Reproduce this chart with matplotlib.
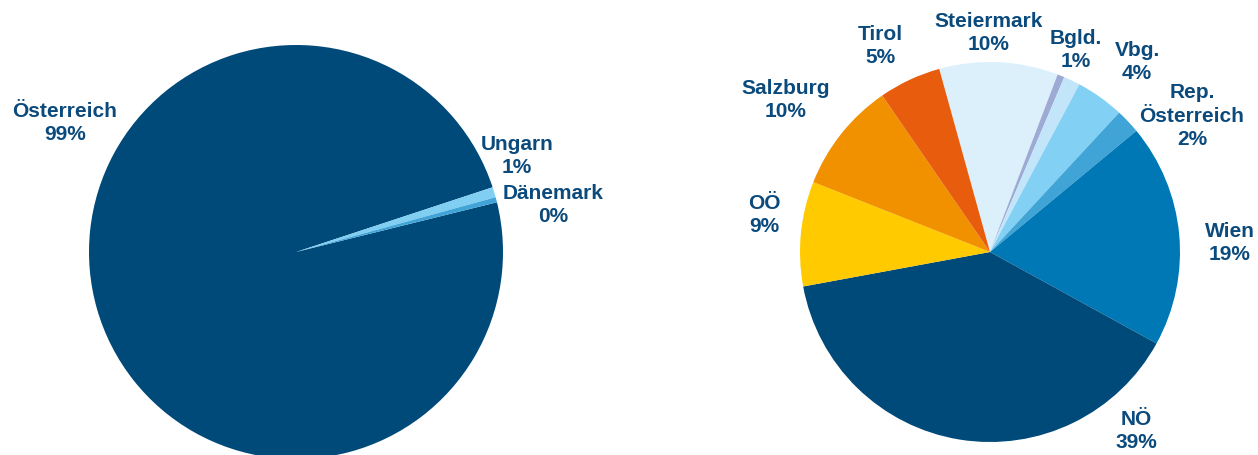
import matplotlib
matplotlib.use("Agg")
import matplotlib.pyplot as plt

# ---------------- data ----------------
left_names = ["Österreich", "Ungarn", "Dänemark"]
left_values = [98.8, 0.8, 0.4]
left_pct = ["99%", "1%", "0%"]

right_names = ["Steiermark", "Kärnten", "Bgld.", "Vbg.", "Rep.\nÖsterreich",
               "Wien", "NÖ", "OÖ", "Salzburg", "Tirol"]
right_values = [10.1, 0.6, 1.4, 4.1, 2.1, 19.0, 39.1, 8.9, 9.4, 5.3]
right_pct = ["10%", "", "1%", "4%", "2%", "19%", "39%", "9%", "10%", "5%"]
right_show = [True, False, True, True, True, True, True, True, True, True]

# ---------------- style / layout ----------------
left_colors = ["#004a7a", "#80cff2", "#40a4d8"]
right_colors = ["#dcf0fc", "#9caad4", "#c2e5f9", "#82d0f3", "#40a4d6",
                "#0078b5", "#004a7a", "#ffcb00", "#f19100", "#e85c0d"]
text_color = "#0b4a7c"

W, H = 1258, 455
# label centres in pixel coordinates (x, y from top)
left_label_pos = [(65, 123), (517, 156), (553, 205)]
right_label_pos = [(989, 33), None, (1076, 50), (1137, 62), (1192, 116),
                   (1230, 243), (1136, 431), (764, 215), (786, 100), (880, 46)]

fig = plt.figure(figsize=(W / 100, H / 100), dpi=100)
ax = fig.add_axes([0, 0, 1, 1])

ax.pie(left_values, colors=left_colors, startangle=13.9, counterclock=False,
       center=(296, H - 252), radius=207,
       wedgeprops=dict(linewidth=0), frame=False)
ax.pie(right_values, colors=right_colors, startangle=105.5, counterclock=False,
       center=(990, H - 252), radius=190,
       wedgeprops=dict(linewidth=0), frame=False)

ax.set_xlim(0, W)
ax.set_ylim(0, H)
ax.set_aspect("auto")
ax.axis("off")

font = dict(family=["Liberation Sans", "DejaVu Sans"], fontsize=15,
            fontweight="bold", color=text_color, ha="center", va="center",
            linespacing=1.32)

for name, pct, pos in zip(left_names, left_pct, left_label_pos):
    ax.text(pos[0], H - pos[1], f"{name}\n{pct}", **font)

for name, pct, pos, show in zip(right_names, right_pct, right_label_pos, right_show):
    if show:
        ax.text(pos[0], H - pos[1], f"{name}\n{pct}", **font)

fig.savefig("out.png", dpi=100)
